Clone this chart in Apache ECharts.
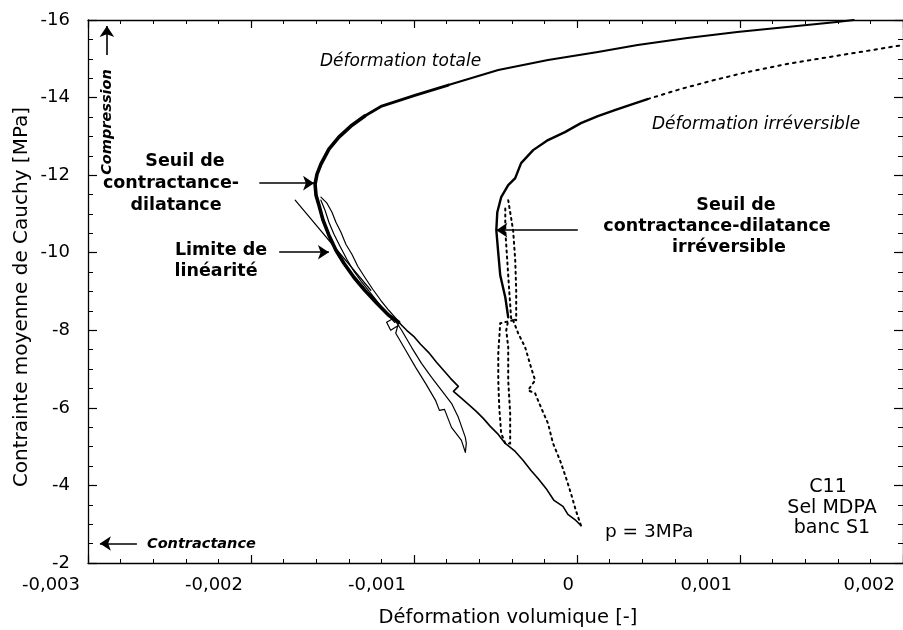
<!DOCTYPE html>
<html>
<head>
<meta charset="utf-8">
<script src="https://cdn.jsdelivr.net/npm/echarts@6/dist/echarts.min.js"></script>
<style>
html,body{margin:0;padding:0;background:#fff;}
#chart{width:903px;height:630px;}
</style>
</head>
<body>
<div id="chart"></div>
<script>
// ---- Data (strain [-], mean Cauchy stress [MPa]) ----
const xTicks = [-0.003, -0.002, -0.001, 0, 0.001, 0.002];
const xTickLabels = ['-0,003', '-0,002', '-0,001', '0', '0,001', '0,002'];
const yTicks = [-16, -14, -12, -10, -8, -6, -4, -2];
const yTickLabels = ['-16', '-14', '-12', '-10', '-8', '-6', '-4', '-2'];

// total strain: first loading (thin part)
const totalLoadLow = [
  [0.000024,-2.968],[-0.000007,-3.097],[-0.000056,-3.252],[-0.000086,-3.458],[-0.000141,-3.613],
  [-0.00019,-3.923],[-0.000239,-4.181],[-0.000282,-4.387],[-0.00033,-4.645],[-0.000379,-4.877],
  [-0.00044,-5.084],[-0.000483,-5.316],[-0.000532,-5.523],[-0.000575,-5.729],[-0.000618,-5.91],
  [-0.000666,-6.09],[-0.000715,-6.271],[-0.000758,-6.426],[-0.000728,-6.555],[-0.000776,-6.761],
  [-0.000819,-6.968],[-0.000862,-7.174],[-0.000911,-7.432],[-0.00096,-7.639],[-0.001002,-7.845],
  [-0.001045,-8.0],[-0.001094,-8.206]
];
// total strain: first unload/reload cycle
const totalCycle1 = [
  [-0.001094,-8.206],[-0.001112,-7.923],[-0.001051,-7.484],[-0.00099,-7.045],[-0.000929,-6.632],
  [-0.000868,-6.194],[-0.000844,-5.935],[-0.000813,-5.961],[-0.00077,-5.497],[-0.000709,-5.161],
  [-0.000685,-4.852],[-0.000679,-5.084],[-0.000685,-5.239],[-0.000728,-5.755],[-0.00077,-6.116],
  [-0.000831,-6.452],[-0.000892,-6.787],[-0.000954,-7.148],[-0.001015,-7.561],[-0.001076,-8.0],
  [-0.001125,-8.31],[-0.001168,-8.206],[-0.001143,-8.0],[-0.001094,-8.129]
];
// total strain: loading up to the threshold and beyond (thick part)
const totalLoadMid = [
  [-0.001094,-8.206],[-0.001155,-8.387],[-0.001228,-8.697],[-0.001302,-9.032],[-0.001369,-9.368],
  [-0.00143,-9.729],[-0.001479,-10.065],[-0.001522,-10.452],[-0.001558,-10.839],[-0.001583,-11.226],
  [-0.001601,-11.484],[-0.001607,-11.768],[-0.001595,-12.026],[-0.001571,-12.284],[-0.001522,-12.671],
  [-0.001461,-12.981],[-0.001387,-13.265],[-0.001302,-13.523]
];
const totalLoadUpper = [
  [-0.001302,-13.523],[-0.001198,-13.781],[-0.00099,-14.065],[-0.000789,-14.323]
];
const totalLoadHigh = [
  [-0.000789,-14.323],[-0.000483,-14.71],[-0.000178,-14.968],
  [0.000128,-15.174],[0.000372,-15.355],[0.000677,-15.535],[0.000983,-15.69],[0.001288,-15.819],
  [0.001594,-15.948],[0.001698,-16.0]
];
// total strain: second unload/reload cycle
const totalCycle2 = [
  [-0.001571,-11.432],[-0.001534,-11.277],[-0.001503,-11.045],[-0.001479,-10.787],[-0.001448,-10.529],
  [-0.001418,-10.219],[-0.001381,-9.961],[-0.001345,-9.652],[-0.001302,-9.368],[-0.001253,-9.058],
  [-0.001204,-8.774],[-0.001155,-8.516],[-0.0011,-8.258],
  [-0.001119,-8.206],[-0.001173,-8.465],[-0.001222,-8.723],[-0.001271,-8.981],[-0.00132,-9.239],
  [-0.001369,-9.523],[-0.001412,-9.832],[-0.001454,-10.168],[-0.001491,-10.477],[-0.001522,-10.787],
  [-0.001546,-11.097],[-0.001571,-11.355]
];
// linearity limit (straight fit)
const linearLimit = [[-0.001729,-11.355],[-0.001265,-9.032]];

// irreversible strain
const irrLow = [
  [0.000024,-2.968],[-0.000007,-3.355],[-0.000037,-3.794],[-0.000068,-4.206],[-0.000104,-4.645],
  [-0.000147,-5.084],[-0.000178,-5.6],[-0.000221,-6.013],[-0.000257,-6.374],[-0.0003,-6.452],
  [-0.000257,-6.71],[-0.000282,-7.045],[-0.000318,-7.561],[-0.000361,-7.923],[-0.000392,-8.258]
];
const irrCycle1 = [
  [-0.000392,-8.258],[-0.000471,-8.181],[-0.000483,-7.406],[-0.000483,-6.71],[-0.000477,-6.013],
  [-0.000465,-5.342],[-0.00044,-5.084],[-0.00041,-5.084],[-0.00041,-5.858],[-0.000422,-6.71],
  [-0.000422,-7.561],[-0.000434,-8.0],[-0.000422,-8.258]
];
const irrCycle2 = [
  [-0.000422,-11.355],[-0.000392,-10.581],[-0.000379,-9.806],[-0.000373,-9.032],[-0.000373,-8.258],
  [-0.000404,-8.31],[-0.000416,-9.032],[-0.000428,-9.806],[-0.00044,-10.581],[-0.00044,-11.226]
];
const irrDense = [
  [-0.000422,-8.335],[-0.00044,-8.852],[-0.000471,-9.419],[-0.000483,-9.987],[-0.000495,-10.581],
  [-0.000489,-11.045],[-0.000465,-11.432],[-0.000422,-11.742],[-0.000379,-11.923],[-0.000343,-12.31],
  [-0.000269,-12.645],[-0.000178,-12.903],[-0.000074,-13.11],[0.000024,-13.342],[0.000128,-13.523],
  [0.000232,-13.677],[0.000341,-13.832],[0.000433,-13.961]
];
const irrTail = [
  [0.000433,-13.961],[0.000635,-14.219],[0.000842,-14.452],[0.001044,-14.658],[0.001288,-14.865],
  [0.001472,-14.994],[0.001698,-15.148],[0.002,-15.355]
];

// annotation arrows [from, to] in data coordinates
const arrows = [
  [[-0.001949,-11.794],[-0.001613,-11.794]],
  [[-0.001827,-10.013],[-0.001522,-10.013]],
  [[0.000005,-10.581],[-0.000495,-10.581]],
  [[-0.002884,-15.097],[-0.002884,-15.845]],
  [[-0.0027,-2.503],[-0.002927,-2.503]]
];

const FONT = "'DejaVu Sans', sans-serif";
const chart = echarts.init(document.getElementById('chart'), null, {renderer: 'canvas'});

function lineSeries(data, width, type) {
  return {
    type: 'line', data: data, showSymbol: false, symbol: 'none', silent: true,
    lineStyle: {color: '#000', width: width, type: type || 'solid', cap: 'round', join: 'round'},
    emphasis: {disabled: true}, z: 3
  };
}

const axisCommonX = {
  type: 'value', min: -0.003, max: 0.002, interval: 0.001,
  axisLine: {show: true, onZero: false, lineStyle: {color: '#000', width: 1.3}},
  axisTick: {show: true, inside: true, length: 8, lineStyle: {color: '#000', width: 1.2}},
  minorTick: {show: true, splitNumber: 5, length: 4, lineStyle: {color: '#000', width: 1}},
  splitLine: {show: false}
};
const axisCommonY = {
  type: 'value', min: -16, max: -2, interval: 2, inverse: true,
  axisLine: {show: true, onZero: false, lineStyle: {color: '#000', width: 1.3}},
  axisTick: {show: true, inside: true, length: 9, lineStyle: {color: '#000', width: 1.2}},
  minorTick: {show: true, splitNumber: 4, length: 5, lineStyle: {color: '#000', width: 1}},
  splitLine: {show: false}
};

const option = {
  animation: false,
  backgroundColor: '#fff',
  grid: {left: 88, top: 20, width: 818, height: 543, containLabel: false},
  xAxis: [
    Object.assign({}, axisCommonX, {
      position: 'bottom',
      axisLabel: {
        show: true, interval: 0, showMinLabel: true, showMaxLabel: true,
        color: '#000', fontFamily: FONT, fontSize: 18, margin: 13,
        align: 'right',
        rich: {
          p: {fontFamily: FONT, fontSize: 18, color: '#000', padding: [0, 8, 0, 0]},
          z: {fontFamily: FONT, fontSize: 18, color: '#000', padding: [0, 3, 0, 0]}
        },
        formatter: function (v) {
          const i = xTicks.findIndex(t => Math.abs(t - v) < 1e-9);
          if (i < 0) return '';
          return (xTicks[i] === 0 ? '{z|' : '{p|') + xTickLabels[i] + '}';
        }
      }
    }),
    Object.assign({}, axisCommonX, {position: 'top', axisLabel: {show: false}})
  ],
  yAxis: [
    Object.assign({}, axisCommonY, {
      position: 'left',
      axisLabel: {
        show: true, interval: 0, color: '#000', fontFamily: FONT, fontSize: 18, margin: 18,
        formatter: function (v) {
          const i = yTicks.findIndex(t => Math.abs(t - v) < 1e-9);
          return i >= 0 ? yTickLabels[i] : '';
        }
      }
    }),
    Object.assign({}, axisCommonY, {position: 'right', axisLabel: {show: false}})
  ],
  series: [
    lineSeries(totalLoadLow, 1.6),
    lineSeries(totalCycle1, 1.2),
    lineSeries(totalLoadMid, 3.6),
    lineSeries(totalLoadUpper, 2.8),
    lineSeries(totalLoadHigh, 2.0),
    lineSeries(totalCycle2, 1.2),
    Object.assign(lineSeries(linearLimit, 1.2), {
      markLine: {
        silent: true, animation: false,
        symbol: ['none', 'arrow'], symbolSize: 11,
        label: {show: false},
        lineStyle: {color: '#000', width: 1.6, type: 'solid'},
        emphasis: {disabled: true},
        data: arrows.map(a => [{coord: a[0]}, {coord: a[1]}])
      }
    }),
    lineSeries(irrLow, 2, [2, 4]),
    lineSeries(irrCycle1, 2, [2, 4]),
    lineSeries(irrCycle2, 2, [2, 4]),
    lineSeries(irrDense, 2.4),
    lineSeries(irrTail, 2, [2.5, 5])
  ],
  graphic: {
    elements: [
      // axis titles
      {type: 'text', x: 508, y: 618, style: {text: 'Déformation volumique [-]', font: "19.5px " + FONT, fill: '#000', align: 'center', verticalAlign: 'middle'}},
      {type: 'text', x: 22, y: 297, rotation: Math.PI / 2, style: {text: 'Contrainte moyenne de Cauchy [MPa]', font: "20px " + FONT, fill: '#000', align: 'center', verticalAlign: 'middle'}},
      // left annotations
      {type: 'text', x: 185, y: 161, style: {text: 'Seuil de', font: "bold 17.5px " + FONT, fill: '#000', align: 'center', verticalAlign: 'middle'}},
      {type: 'text', x: 171, y: 183, style: {text: 'contractance-', font: "bold 17.5px " + FONT, fill: '#000', align: 'center', verticalAlign: 'middle'}},
      {type: 'text', x: 176, y: 205, style: {text: 'dilatance', font: "bold 17.5px " + FONT, fill: '#000', align: 'center', verticalAlign: 'middle'}},
      {type: 'text', x: 221, y: 250, style: {text: 'Limite de', font: "bold 17.5px " + FONT, fill: '#000', align: 'center', verticalAlign: 'middle'}},
      {type: 'text', x: 216, y: 271, style: {text: 'linéarité', font: "bold 17.5px " + FONT, fill: '#000', align: 'center', verticalAlign: 'middle'}},
      // right annotations
      {type: 'text', x: 736, y: 205, style: {text: 'Seuil de', font: "bold 17.5px " + FONT, fill: '#000', align: 'center', verticalAlign: 'middle'}},
      {type: 'text', x: 717, y: 226, style: {text: 'contractance-dilatance', font: "bold 17.5px " + FONT, fill: '#000', align: 'center', verticalAlign: 'middle'}},
      {type: 'text', x: 729, y: 247, style: {text: 'irréversible', font: "bold 17.5px " + FONT, fill: '#000', align: 'center', verticalAlign: 'middle'}},
      // curve names
      {type: 'text', x: 320, y: 62, style: {text: 'Déformation totale', font: "italic 17px " + FONT, fill: '#000', align: 'left', verticalAlign: 'middle'}},
      {type: 'text', x: 652, y: 125, style: {text: 'Déformation irréversible', font: "italic 17px " + FONT, fill: '#000', align: 'left', verticalAlign: 'middle'}},
      // direction hints
      {type: 'text', x: 107, y: 122, rotation: Math.PI / 2, style: {text: 'Compression', font: "italic bold 14.5px " + FONT, fill: '#000', align: 'center', verticalAlign: 'middle'}},
      {type: 'text', x: 147, y: 544, style: {text: 'Contractance', font: "italic bold 14.5px " + FONT, fill: '#000', align: 'left', verticalAlign: 'middle'}},
      // test info
      {type: 'text', x: 605, y: 532, style: {text: 'p = 3MPa', font: "18.5px " + FONT, fill: '#000', align: 'left', verticalAlign: 'middle'}},
      {type: 'text', x: 828, y: 487, style: {text: 'C11', font: "19px " + FONT, fill: '#000', align: 'center', verticalAlign: 'middle'}},
      {type: 'text', x: 832, y: 508, style: {text: 'Sel MDPA', font: "19px " + FONT, fill: '#000', align: 'center', verticalAlign: 'middle'}},
      {type: 'text', x: 832, y: 528, style: {text: 'banc S1', font: "19px " + FONT, fill: '#000', align: 'center', verticalAlign: 'middle'}}
    ]
  }
};
chart.setOption(option);
</script>
</body>
</html>
